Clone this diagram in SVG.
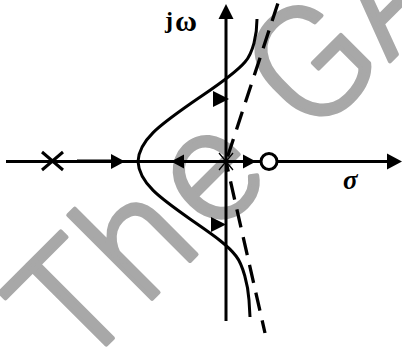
<svg xmlns="http://www.w3.org/2000/svg" width="402" height="353" viewBox="0 0 402 353">
<style>
.ln{stroke:#000;stroke-width:3;fill:none}
.dash{stroke:#000;stroke-width:3.3;fill:none;stroke-dasharray:18.5 10}
.ah{fill:#000;stroke:none}
.wm{fill:#a8a8a8;stroke:#a8a8a8;stroke-width:4;stroke-linejoin:round;font-family:Roboto,"Liberation Sans",Arial,sans-serif;font-weight:300;font-size:158px}
.lbl{font-family:"Liberation Serif","Times New Roman",serif;font-weight:bold;fill:#000}
</style>
<rect width="402" height="353" fill="#fff"/>
<g id="watermark">
<text class="wm" transform="rotate(-45)" y="319"><tspan x="-211">T</tspan><tspan x="-116">h</tspan><tspan x="-16">e</tspan><tspan x="121">G</tspan><tspan x="230">A</tspan></text>
</g>
<g id="axes">
<line class="ln" x1="6" y1="161.5" x2="390" y2="161.5"/>
<polygon class="ah" points="402,161.5 387,153.5 387,169.5"/>
<line class="ln" x1="226" y1="321" x2="226" y2="16"/>
<polygon class="ah" points="226,4 218.5,19 233.5,19"/>
</g>
<g id="connectors">
<line class="ln" x1="77" y1="161" x2="112" y2="161" stroke-width="3.6"/>
<path class="ln" d="M138,161.5 C139,140 160,125 190,104 C210,90 233,76 245,62 C253,52.7 257,35 257,19"/>
<path class="ln" d="M138,161.5 C139,183 160,198 190,219 C210,233 227,244 236,256 C243,265 248,285 249,300 L250,317"/>
<line class="dash" x1="279" y1="0" x2="226" y2="161.5" stroke-dashoffset="24.8"/>
<line class="dash" x1="226" y1="161.5" x2="265" y2="333" stroke-dashoffset="8"/>
<polygon class="ah" points="125,161.5 111,154 111,169"/>
<polygon class="ah" points="171,161.5 184,154.5 184,168.5"/>
<polygon class="ah" points="256,161.5 243,154.5 243,168.5"/>
<polygon class="ah" points="213,91 213,107 229,99"/>
<polygon class="ah" points="211,217 211,232 226,224.5"/>
</g>
<g id="pole">
<path class="ln" stroke-width="3.5" d="M42,152 L63,170 M63,152 L42,170"/>
</g>
<g id="origin">
<path stroke="#000" stroke-width="1.3" fill="none" d="M219,153 L233,170 M233,153 L219,170"/>
</g>
<g id="zero">
<circle cx="269" cy="161.5" r="8" fill="#fff" stroke="#000" stroke-width="3"/>
</g>
<g id="labels">
<text class="lbl" x="165" y="28" font-size="24">j</text>
<text class="lbl" x="175" y="31" font-size="30" textLength="22" lengthAdjust="spacingAndGlyphs">ω</text>
<text class="lbl" x="343" y="189" font-size="27" font-style="italic">σ</text>
</g>
</svg>
